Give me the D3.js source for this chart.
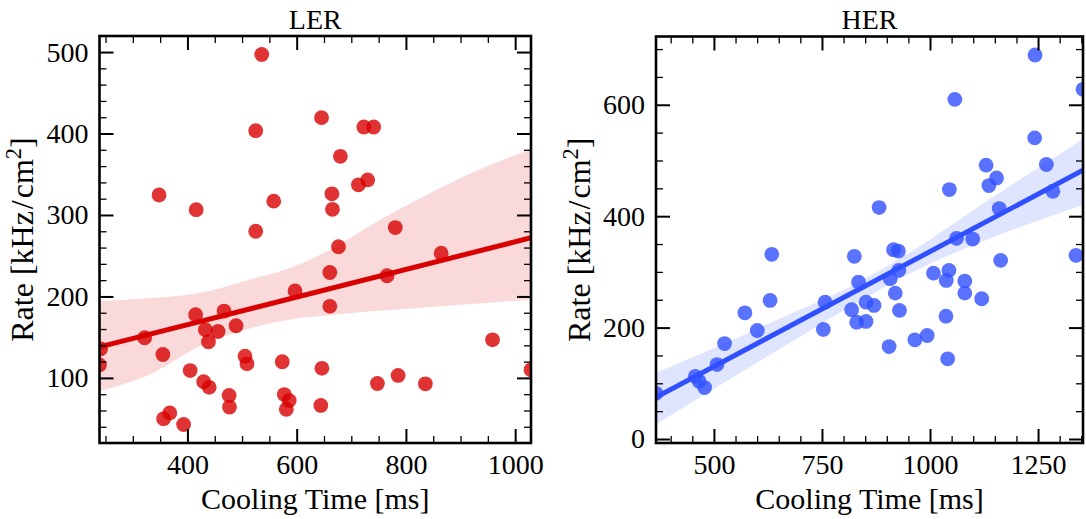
<!DOCTYPE html>
<html><head><meta charset="utf-8">
<script src="https://cdn.jsdelivr.net/npm/d3@7"></script>
<style>
html,body{margin:0;padding:0;background:#fff;}
svg{display:block;font-family:"Liberation Serif","DejaVu Serif",serif;}
</style></head><body>
<svg id="chart" width="1086" height="519"></svg>
<script>
// ---------------- data ----------------
const lerX = [536,525,645.5,723,741,680,348,416,558,525,664.5,665.5,713,730,780.5,676.5,864.5,
  241,239,321.7,355,415,432.8,438.5,456,467,489,505.4,509,405,429.7,439.8,356.4,367.7,393,476.3,477,
  573.6,577.3,586.3,581,597,646.2,644.2,660.7,660.7,765.5,747.8,785.7,835.6,958.6,1029];
const lerY = [497,403.5,419.5,408,408,372,324.5,306.5,317,280,326,307,337,343,284.5,261,253,
  135.7,116,149.3,128.7,177.6,159.1,144.4,157,182,164,126.6,117.3,109,95.4,88.4,49.9,56.9,42.8,78.5,64.2,
  119.8,79.5,72.2,61.5,206.7,111.8,66.2,229.4,187.9,225.4,93.1,103,92.7,146.8,110];

const herX = [1243,1354,1057.5,1242.2,1129.8,1269.2,1153.9,1136.3,1044.8,1284.3,1160.1,882.2,1061.4,1098.8,
  915.7,926.8,633.9,824.9,1163.4,1337.7,
  927.7,907.9,1008,1043.8,1037.6,1080.5,1080.5,1119.6,919.7,834.6,818.6,830.4,851.9,851.9,870.4,929.4,
  1036.9,993.6,965,905.3,1040.9,757.3,753.2,630,571.7,600.3,524.7,507.2,457,465.8,478.5,366];
const herY = [689.4,627.7,609.7,540.6,491.5,492.8,468.7,455,447.8,444.8,413.7,415.5,360.3,359,
  339.9,337.4,331.5,327.9,320.7,329.7,
  302.7,287.8,297.8,302.7,284.7,283.5,261.9,251.8,261.9,281.7,232,209.7,211,245.7,239.8,230.8,
  220.5,185.8,178,166,143.9,245.7,196.6,248.7,226.6,194.8,171.4,133.6,112.6,103.6,92.3,82];

// regression line and confidence band
const lerFitX = [239, 1029];
const lerFitY = [138, 272];
const lerBandX = [239,330,420,510,600,660,720,785,845,905,965,1029];
const lerBandUpper = [194,198,204,220,238,257,281,306,327,347,364,381];
const lerBandLower = [84,104,138,160,173,177,181,184,187,190,193,196];

const herFitX = [366, 1354];
const herFitY = [74.8, 482.6];
const herBandX = [366,506,660,814,968,1123,1354];
const herBandUpper = [119,165,219,273,342,423,538];
const herBandLower = [26,93,165,237,303,355,420];

// tick values
const lerXTicks = [400,600,800,1000];
const lerYTicks = [100,200,300,400,500];
const herXTicks = [500,750,1000,1250];
const herYTicks = [0,200,400,600];

const titles = ["LER","HER"];
const xLabel = "Cooling Time [ms]";
const yLabelParts = ["Rate [kHz", "/", "cm", "2", "]"];

// ---------------- layout / style ----------------
const panels = [
  {title:titles[0], xs:lerX, ys:lerY, fitX:lerFitX, fitY:lerFitY, bx:lerBandX, bu:lerBandUpper, bl:lerBandLower,
   xt:lerXTicks, yt:lerYTicks, xMinorStep:50, yMinorStep:20,
   left:99.5, right:531, top:36, bottom:443, color:"#d80000", band:"#d80000", ylabX:33},
  {title:titles[1], xs:herX, ys:herY, fitX:herFitX, fitY:herFitY, bx:herBandX, bu:herBandUpper, bl:herBandLower,
   xt:herXTicks, yt:herYTicks, xMinorStep:50, yMinorStep:50,
   left:656, right:1083, top:36.5, bottom:443, color:"#3050ff", band:"#3050ff", ylabX:590}
];

const svg = d3.select("#chart");
const FS_TICK = 28, FS_LAB = 30, FS_YLAB = 32, FS_TITLE = 28;

panels.forEach((p, i) => {
  const xDom = d3.extent(p.xs);
  const allY = p.ys.concat(p.bu, p.bl);
  const [lo, hi] = d3.extent(allY);
  const pad = 0.05 * (hi - lo);
  const x = d3.scaleLinear().domain(xDom).range([p.left, p.right]);
  const y = d3.scaleLinear().domain([lo - pad, hi + pad]).range([p.bottom, p.top]);

  const g = svg.append("g");
  const clipId = "clip" + i;
  svg.append("defs").append("clipPath").attr("id", clipId)
    .append("rect").attr("x", p.left).attr("y", p.top)
    .attr("width", p.right - p.left).attr("height", p.bottom - p.top);

  const plot = g.append("g").attr("clip-path", `url(#${clipId})`);

  // points
  plot.append("g").selectAll("circle").data(p.xs.map((v, k) => [v, p.ys[k]]))
    .join("circle")
    .attr("cx", d => x(d[0])).attr("cy", d => y(d[1])).attr("r", 7.4)
    .attr("fill", p.color).attr("fill-opacity", 0.8);

  // band
  const band = d3.area().x(d => x(d.x)).y0(d => y(d.l)).y1(d => y(d.u)).curve(d3.curveMonotoneX);
  plot.append("path").datum(p.bx.map((v, k) => ({x:v, u:p.bu[k], l:p.bl[k]})))
    .attr("d", band).attr("fill", p.band).attr("fill-opacity", 0.15);

  // regression line
  plot.append("path").datum(p.fitX.map((v, k) => [v, p.fitY[k]]))
    .attr("d", d3.line().x(d => x(d[0])).y(d => y(d[1])))
    .attr("stroke", p.color).attr("stroke-width", 5).attr("fill", "none");

  // ticks
  const yDom = y.domain();
  const minorX = d3.range(Math.ceil(xDom[0] / p.xMinorStep) * p.xMinorStep, xDom[1] + 1e-9, p.xMinorStep)
    .filter(v => !p.xt.includes(v));
  const minorY = d3.range(Math.ceil(yDom[0] / p.yMinorStep) * p.yMinorStep, yDom[1] + 1e-9, p.yMinorStep)
    .filter(v => !p.yt.includes(v));

  const MAJ = 14, MIN = 7;
  function styleAxis(sel, w) {
    sel.select(".domain").remove();
    sel.selectAll(".tick line").attr("stroke", "#000").attr("stroke-width", w);
    sel.selectAll(".tick text").attr("fill", "#000").attr("font-size", FS_TICK)
      .attr("font-family", '"Liberation Serif","DejaVu Serif",serif');
  }
  // bottom
  g.append("g").attr("transform", `translate(0,${p.bottom})`)
    .call(d3.axisBottom(x).tickValues(p.xt).tickSizeInner(-MAJ).tickSizeOuter(0).tickPadding(11).tickFormat(d3.format("d")))
    .call(s => styleAxis(s, 2));
  g.append("g").attr("transform", `translate(0,${p.bottom})`)
    .call(d3.axisBottom(x).tickValues(minorX).tickSizeInner(-MIN).tickSizeOuter(0).tickFormat(""))
    .call(s => styleAxis(s, 1.3));
  // top
  g.append("g").attr("transform", `translate(0,${p.top})`)
    .call(d3.axisTop(x).tickValues(p.xt).tickSizeInner(-MAJ).tickSizeOuter(0).tickFormat(""))
    .call(s => styleAxis(s, 2));
  g.append("g").attr("transform", `translate(0,${p.top})`)
    .call(d3.axisTop(x).tickValues(minorX).tickSizeInner(-MIN).tickSizeOuter(0).tickFormat(""))
    .call(s => styleAxis(s, 1.3));
  // left
  g.append("g").attr("transform", `translate(${p.left},0)`)
    .call(d3.axisLeft(y).tickValues(p.yt).tickSizeInner(-MAJ).tickSizeOuter(0).tickPadding(11).tickFormat(d3.format("d")))
    .call(s => styleAxis(s, 2));
  g.append("g").attr("transform", `translate(${p.left},0)`)
    .call(d3.axisLeft(y).tickValues(minorY).tickSizeInner(-MIN).tickSizeOuter(0).tickFormat(""))
    .call(s => styleAxis(s, 1.3));
  // right
  g.append("g").attr("transform", `translate(${p.right},0)`)
    .call(d3.axisRight(y).tickValues(p.yt).tickSizeInner(-MAJ).tickSizeOuter(0).tickFormat(""))
    .call(s => styleAxis(s, 2));
  g.append("g").attr("transform", `translate(${p.right},0)`)
    .call(d3.axisRight(y).tickValues(minorY).tickSizeInner(-MIN).tickSizeOuter(0).tickFormat(""))
    .call(s => styleAxis(s, 1.3));

  // frame
  g.append("rect").attr("x", p.left).attr("y", p.top)
    .attr("width", p.right - p.left).attr("height", p.bottom - p.top)
    .attr("fill", "none").attr("stroke", "#000").attr("stroke-width", 2.6);

  // title
  const cx = (p.left + p.right) / 2;
  g.append("text").attr("x", cx).attr("y", 29).attr("text-anchor", "middle")
    .attr("font-size", FS_TITLE).attr("fill", "#000").text(p.title);
  // x label
  g.append("text").attr("x", cx).attr("y", 509).attr("text-anchor", "middle")
    .attr("font-size", FS_LAB).attr("fill", "#000").text(xLabel);
  // y label with real superscript
  const cy = (p.top + p.bottom) / 2;
  const yl = g.append("text").attr("transform", `translate(${p.ylabX},${cy}) rotate(-90)`)
    .attr("text-anchor", "middle").attr("font-size", FS_YLAB).attr("fill", "#000");
  yl.append("tspan").text(yLabelParts[0]);
  yl.append("tspan").attr("dx", 2).text(yLabelParts[1]);
  yl.append("tspan").attr("dx", 2).text(yLabelParts[2]);
  yl.append("tspan").attr("dy", -12).attr("font-size", FS_YLAB * 0.7).text(yLabelParts[3]);
  yl.append("tspan").attr("dy", 12).text(yLabelParts[4]);
});
</script>
</body></html>
